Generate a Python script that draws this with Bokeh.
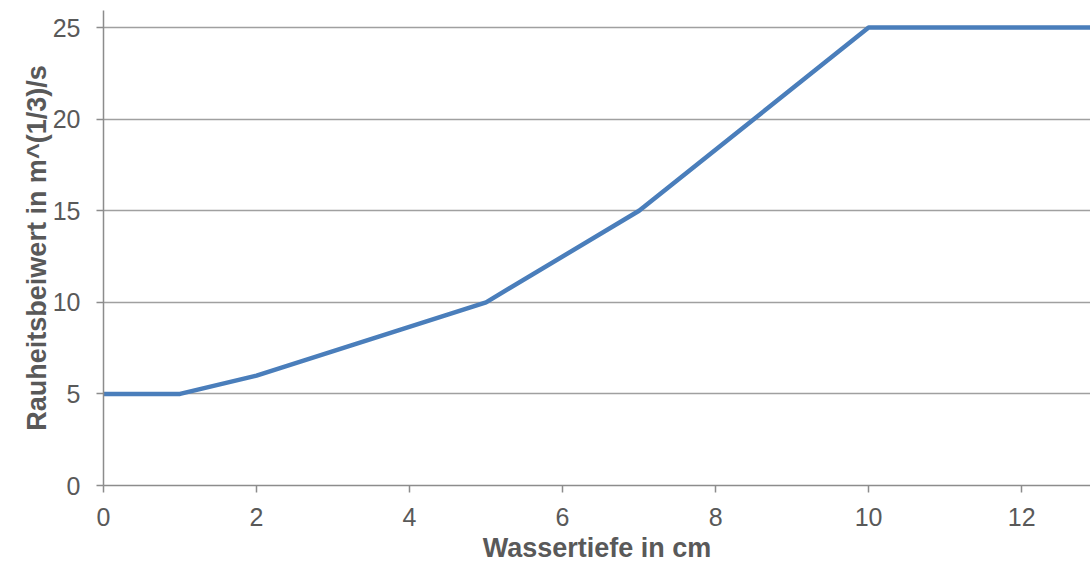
from bokeh.plotting import figure
from bokeh.models import Range1d, FixedTicker
from bokeh.embed import file_html
from bokeh.resources import INLINE

depth_cm = [0, 1, 2, 5, 7, 10, 13]
roughness = [5, 5, 6, 10, 15, 25, 25]
x_ticks = [0, 2, 4, 6, 8, 10, 12]
y_ticks = [0, 5, 10, 15, 20, 25]
x_title = "Wassertiefe in cm"
y_title = "Rauheitsbeiwert in m^(1/3)/s"

p = figure(width=1090, height=565, output_backend="svg", toolbar_location=None,
           x_range=Range1d(0, 12.9), y_range=Range1d(0, 25.93),
           min_border_left=103, min_border_right=0, min_border_top=10, min_border_bottom=80)
p.outline_line_color = None
p.background_fill_color = "white"
p.border_fill_color = "white"

p.line(depth_cm, roughness, line_color="#4a7ebb", line_width=4.5)

font = "Liberation Sans"
for ax in (p.xaxis[0], p.yaxis[0]):
    ax.axis_line_color = "#8c8c8c"
    ax.axis_line_width = 1.5
    ax.major_tick_line_color = "#8c8c8c"
    ax.major_tick_line_width = 1.5
    ax.major_tick_out = 7
    ax.major_tick_in = 0
    ax.minor_tick_line_color = None
    ax.major_label_text_font = font
    ax.major_label_text_font_size = "25px"
    ax.major_label_text_color = "#595959"
    ax.axis_label_text_font = font
    ax.axis_label_text_font_size = "27px"
    ax.axis_label_text_font_style = "bold"
    ax.axis_label_text_color = "#595959"

p.xaxis[0].ticker = FixedTicker(ticks=x_ticks)
p.yaxis[0].ticker = FixedTicker(ticks=y_ticks)
p.xaxis[0].axis_label = x_title
p.yaxis[0].axis_label = y_title
p.xaxis[0].major_label_standoff = 15
p.yaxis[0].major_label_standoff = 16
p.xaxis[0].axis_label_standoff = 4
p.xaxis[0].axis_label_text_line_height = 0.6
p.xaxis[0].major_label_text_line_height = 0.8
p.yaxis[0].axis_label_standoff = -2

p.xgrid.grid_line_color = None
p.ygrid.grid_line_color = "#a0a0a0"
p.ygrid.grid_line_width = 1.5
p.ygrid.ticker = FixedTicker(ticks=y_ticks)

open("out.html", "w").write(file_html(p, INLINE))
